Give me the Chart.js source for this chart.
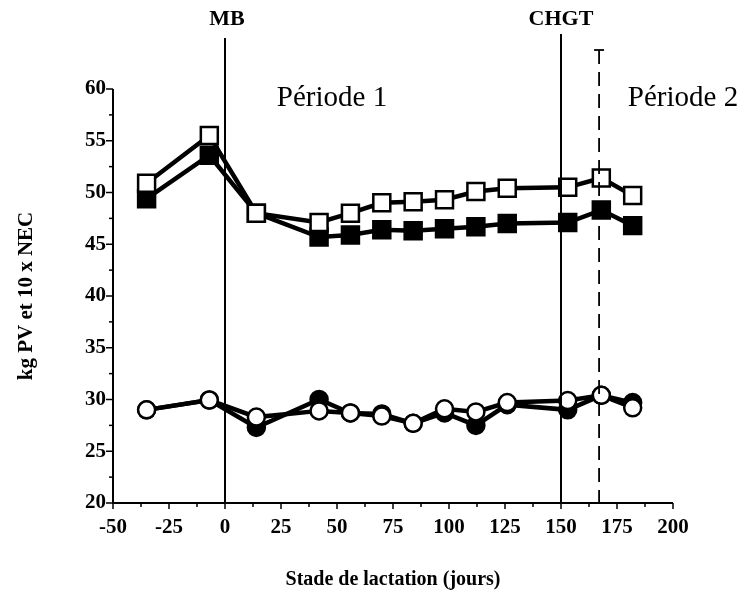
<!DOCTYPE html>
<html>
<head>
<meta charset="utf-8">
<script src="https://cdn.jsdelivr.net/npm/chart.js@4.4.0/dist/chart.umd.min.js"></script>
<style>
  html, body { margin: 0; padding: 0; background: #fff; }
  #wrap { width: 740px; height: 596px; }
</style>
</head>
<body>
<div id="wrap"><canvas id="c" width="740" height="596"></canvas></div>
<script>
// Days of lactation
const days = [-35, -7, 14, 42, 56, 70, 84, 98, 112, 126, 153, 168, 182];
// Squares: kg PV (live weight)
const pvFilled = [49.4, 53.6, 48.0, 45.7, 45.9, 46.4, 46.3, 46.5, 46.7, 47.0, 47.1, 48.3, 46.8];
const pvOpen   = [50.9, 55.5, 48.0, 47.1, 48.0, 49.0, 49.1, 49.3, 50.1, 50.4, 50.5, 51.4, 49.7];
// Circles: 10 x NEC
const necFilled = [29.0, 29.95, 27.3, 30.0, 28.7, 28.6, 27.7, 28.7, 27.5, 29.5, 29.0, 30.4, 29.7];
const necOpen   = [29.0, 29.95, 28.3, 28.9, 28.7, 28.4, 27.7, 29.1, 28.8, 29.7, 29.9, 30.4, 29.2];
// Reference lines
const eventLines = [{ x: 0, label: 'MB' }, { x: 150, label: 'CHGT' }];
const dashedX = 167;
const periodLabels = [{ x: 46, text: 'Période 1' }, { x: 200, text: 'Période 2' }];
const xTickLabels = [-50, -25, 0, 25, 50, 75, 100, 125, 150, 175, 200];
const yTickLabels = [20, 25, 30, 35, 40, 45, 50, 55, 60];

const pts = (ys) => days.map((d, i) => ({ x: d, y: ys[i] }));

const lineW = 4.5;
function ds(label, data, style, fill) {
  return {
    label, data: pts(data),
    borderColor: '#000', borderWidth: lineW,
    pointStyle: style,
    pointRadius: style === 'rect' ? 12 : 8.5,
    pointBorderWidth: 2.5,
    pointBackgroundColor: fill,
    pointBorderColor: '#000',
    tension: 0, showLine: true
  };
}

const overlay = {
  id: 'overlay',
  afterDraw(chart) {
    const { ctx, chartArea: a, scales: { x, y } } = chart;
    ctx.save();
    ctx.strokeStyle = '#000';
    ctx.fillStyle = '#000';
    // axes lines
    ctx.lineWidth = 2;
    ctx.beginPath();
    ctx.moveTo(a.left, a.top); ctx.lineTo(a.left, a.bottom); ctx.lineTo(a.right, a.bottom);
    ctx.stroke();
    // y ticks
    ctx.lineWidth = 1.5;
    for (let v = 20; v <= 60; v += 2.5) {
      const py = y.getPixelForValue(v);
      const len = (v % 5 === 0) ? 7 : 4;
      ctx.beginPath(); ctx.moveTo(a.left - len, py); ctx.lineTo(a.left, py); ctx.stroke();
    }
    // x ticks
    for (let v = -50; v <= 200; v += 12.5) {
      const px = x.getPixelForValue(v);
      const len = (v % 25 === 0) ? 6 : 4;
      ctx.beginPath(); ctx.moveTo(px, a.bottom); ctx.lineTo(px, a.bottom + len); ctx.stroke();
    }
    // event lines
    ctx.lineWidth = 2;
    ctx.font = 'bold 22px "Liberation Serif"';
    ctx.textAlign = 'center';
    ctx.textBaseline = 'alphabetic';
    eventLines.forEach((e, i) => {
      const px = x.getPixelForValue(e.x);
      ctx.beginPath(); ctx.moveTo(px, i === 0 ? 38 : 34); ctx.lineTo(px, a.bottom); ctx.stroke();
      ctx.fillText(e.label, px + (i === 0 ? 2 : 0), 25);
    });
    // dashed line with T cap
    const dx = x.getPixelForValue(dashedX);
    ctx.lineWidth = 1.8;
    ctx.beginPath(); ctx.moveTo(dx - 5, 50); ctx.lineTo(dx + 5, 50); ctx.stroke();
    ctx.setLineDash([14, 8]);
    ctx.beginPath(); ctx.moveTo(dx, 50); ctx.lineTo(dx, a.bottom); ctx.stroke();
    ctx.setLineDash([]);
    // period labels
    ctx.font = '29px "Liberation Serif"';
    periodLabels.forEach((p) => {
      ctx.fillText(p.text, x.getPixelForValue(p.x) + (p.x === 200 ? 10 : 4), 106);
    });
    ctx.restore();
  }
};

new Chart(document.getElementById('c'), {
  type: 'scatter',
  data: {
    datasets: [
      ds('PV open', pvOpen, 'rect', '#fff'),
      ds('PV filled', pvFilled, 'rect', '#000'),
      ds('NEC open', necOpen, 'circle', '#fff'),
      ds('NEC filled', necFilled, 'circle', '#000')
    ]
  },
  options: {
    responsive: false,
    animation: false,
    layout: { padding: { top: 89, right: 67, left: 0, bottom: 0 } },
    plugins: { legend: { display: false }, tooltip: { enabled: false } },
    scales: {
      x: {
        type: 'linear', min: -50, max: 200,
        afterBuildTicks: (s) => { s.ticks = xTickLabels.map(v => ({ value: v })); },
        ticks: { color: '#000', font: { family: 'Liberation Serif', weight: 'bold', size: 21 }, padding: 4, maxRotation: 0, autoSkip: false },
        grid: { display: false },
        border: { display: false },
        title: { display: true, text: 'Stade de lactation (jours)', color: '#000', font: { family: 'Liberation Serif', weight: 'bold', size: 20 }, padding: { top: 26 } },
        afterFit: (s) => { s.height = 93; }
      },
      y: {
        type: 'linear', min: 20, max: 60,
        afterBuildTicks: (s) => { s.ticks = yTickLabels.map(v => ({ value: v })); },
        ticks: { color: '#000', font: { family: 'Liberation Serif', weight: 'bold', size: 21 }, padding: -1, autoSkip: false },
        grid: { display: false },
        border: { display: false },
        title: { display: true, text: 'kg PV et 10 x NEC', color: '#000', font: { family: 'Liberation Serif', weight: 'bold', size: 21 }, padding: { bottom: 0, top: 14 } },
        afterFit: (s) => { s.width = 113; }
      }
    }
  },
  plugins: [overlay]
});
</script>
</body>
</html>
